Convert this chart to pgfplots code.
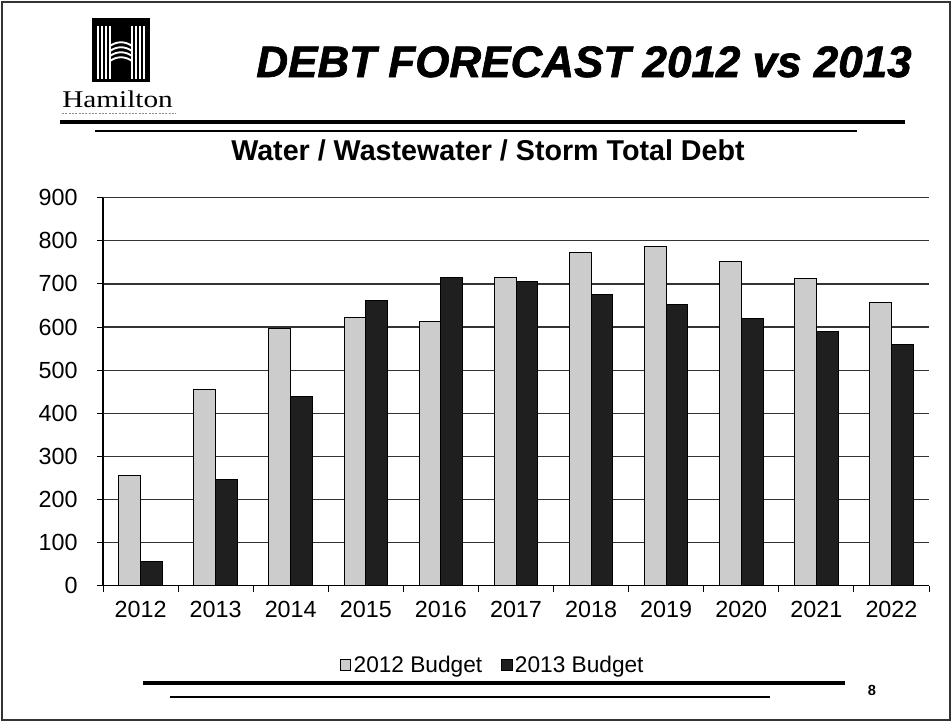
\documentclass[border=0pt]{standalone}
\usepackage{pgfplots}
\pgfplotsset{compat=1.18}
\usepackage{fontspec}
\setmainfont{Liberation Sans}
\newfontfamily\seriffont{Liberation Serif}
\newfontfamily\titlefont[FakeBold=1.5]{Liberation Sans Bold Italic}
\begin{document}
\begin{tikzpicture}
\begin{scope}[x=0.75bp,y=-0.75bp]
\useasboundingbox (0,0) rectangle (951,721);
\draw[black!80, line width=1.5bp] (1.5,1.5) rectangle (949.5,719.5);
% logo
\fill[black] (92,18) rectangle (150,82);
\foreach \xx in {98,102,106,110} \draw[white, line width=1.1bp] (\xx,26) -- (\xx,79);
\foreach \xx in {132,136,140,144} \draw[white, line width=1.1bp] (\xx,26) -- (\xx,79);
\foreach \yy in {46,51,56,61} \draw[white,line width=1.4bp] (110,\yy) .. controls (117,\yy-5) and (125,\yy-5) .. (132,\yy);
\node[anchor=base west, inner sep=0, font=\seriffont\fontsize{18bp}{20bp}\selectfont] at (62,107) {\scalebox{1.22}[1]{Hamilton}};
\draw[black!45, line width=0.6bp, dash pattern=on 1.5bp off 1bp] (62,113) -- (176,113);
% header lines
\draw[line width=3bp] (60,121.5) -- (905,121.5);
\draw[line width=2.2bp] (95,131) -- (857,131);
\node[anchor=base east, inner sep=0, font=\titlefont\fontsize{33bp}{40bp}\selectfont] at (912,77) {DEBT FORECAST 2012 vs 2013};
\node[anchor=base, inner sep=0, font=\bfseries\fontsize{21.5bp}{24bp}\selectfont] at (488,160) {Water / Wastewater / Storm Total Debt};
% footer
\draw[line width=3bp] (143,683) -- (845,683);
\draw[line width=2.2bp] (170,697) -- (770,697);
\node[inner sep=0, font=\bfseries\fontsize{11bp}{13bp}\selectfont] at (872,690) {8};
\end{scope}
\begin{axis}[
  at={(77.25bp,-439.2bp)}, anchor=south west,
  scale only axis, width=619.5bp, height=290.9bp,
  xmin=-0.5, xmax=10.5, ymin=0, ymax=900,
  ybar=0pt, bar width=16.3bp,
  xtick={0,...,10},
  xticklabels={2012,2013,2014,2015,2016,2017,2018,2019,2020,2021,2022},
  major x tick style={draw=none},
  minor xtick={-0.5,0.5,...,10.5},
  ytick={0,100,...,900},
  axis x line*=bottom, axis y line*=left,
  axis line style={black, line width=0.9bp},
  tick align=outside,
  major tick length=4.5bp, minor tick length=4.5bp,
  tick style={black, line width=0.75bp},
  ymajorgrids, grid style={black!80, line width=0.9bp},
  ticklabel style={font=\fontsize{17.5bp}{20bp}\selectfont},
  /pgf/number format/assume math mode=true,
  xticklabel style={yshift=-4bp},
  yticklabel style={xshift=-11bp},
  legend style={at={(0.472,-0.205)}, anchor=center, draw=none, fill=none,
    legend columns=2, font=\fontsize{17bp}{20bp}\selectfont,
    /tikz/every even column/.append style={column sep=12bp}},
]
\addplot[fill=black!20, draw=black, line width=0.75bp,
  legend image code/.code={\draw[fill=black!20, draw=black, line width=0.6bp] (0bp,-4bp) rectangle (8bp,4bp);}]
  coordinates {(0,256) (1,455) (2,597) (3,621) (4,614) (5,715) (6,772) (7,786) (8,752) (9,712) (10,658)};
\addlegendentry{2012 Budget}
\addplot[fill=black!88, draw=black, line width=0.75bp,
  legend image code/.code={\draw[fill=black!88, draw=black, line width=0.6bp] (0bp,-4bp) rectangle (8bp,4bp);}]
  coordinates {(0,57) (1,247) (2,438) (3,661) (4,714) (5,705) (6,675) (7,653) (8,620) (9,590) (10,560)};
\addlegendentry{2013 Budget}
\end{axis}
\end{tikzpicture}
\end{document}
